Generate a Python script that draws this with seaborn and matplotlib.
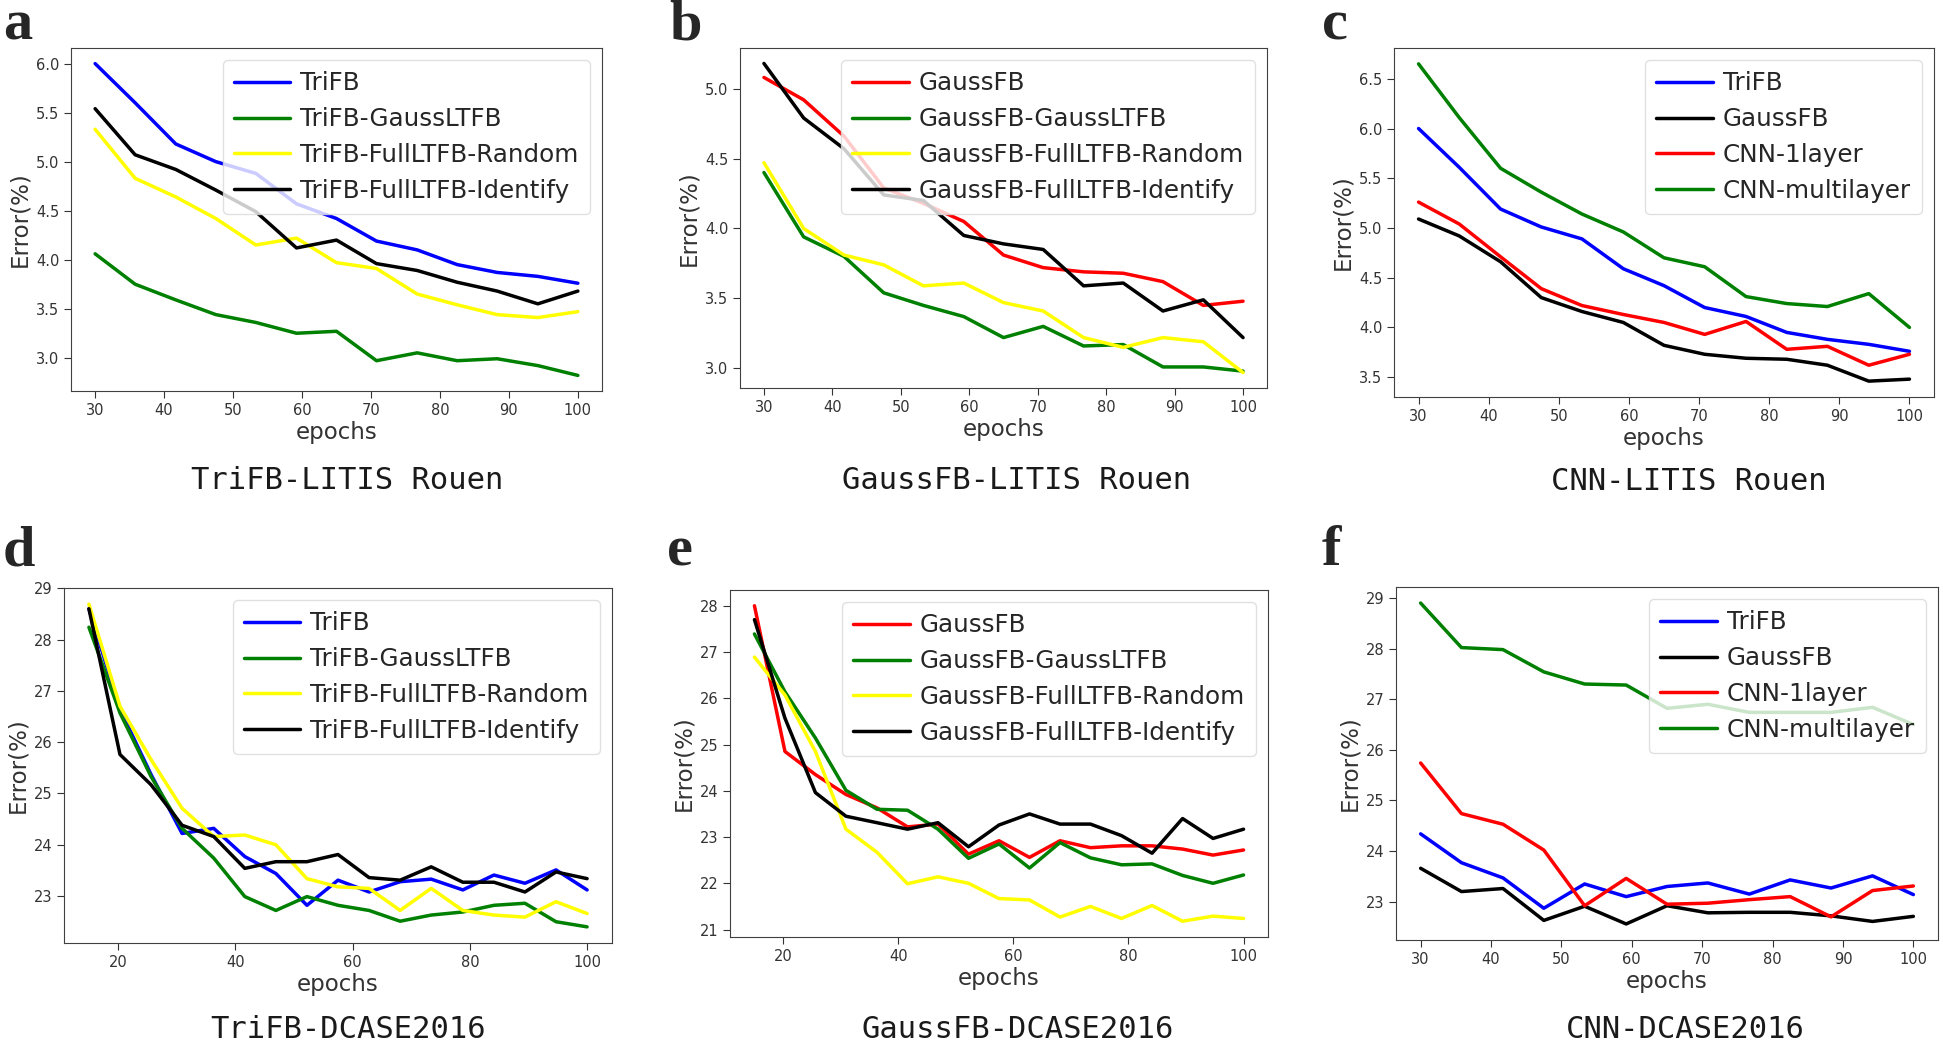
import matplotlib
matplotlib.use('Agg')
import matplotlib.pyplot as plt
import seaborn as sns
import pandas as pd

sns.set_style('ticks')
plt.rcParams['font.family'] = ['DejaVu Sans']

# x positions (epochs)
epochs_13 = [30, 35.8, 41.7, 47.5, 53.3, 59.2, 65, 70.8, 76.7, 82.5, 88.3, 94.2, 100]
epochs_17 = [15, 20.3, 25.6, 30.9, 36.3, 41.6, 46.9, 52.2, 57.5, 62.8, 68.1, 73.4, 78.8, 84.1, 89.4, 94.7, 100]

# a: TriFB - LITIS Rouen
a_labels = ['TriFB', 'TriFB-GaussLTFB', 'TriFB-FullLTFB-Random', 'TriFB-FullLTFB-Identify']
a_trifb = [6.00, 5.60, 5.18, 5.00, 4.88, 4.57, 4.42, 4.19, 4.10, 3.95, 3.87, 3.83, 3.76]
a_gauss = [4.06, 3.75, 3.59, 3.44, 3.36, 3.25, 3.27, 2.97, 3.05, 2.97, 2.99, 2.92, 2.82]
a_random = [5.33, 4.83, 4.64, 4.42, 4.15, 4.22, 3.97, 3.91, 3.65, 3.54, 3.44, 3.41, 3.47]
a_ident = [5.54, 5.07, 4.92, 4.71, 4.49, 4.12, 4.20, 3.96, 3.89, 3.77, 3.68, 3.55, 3.68]

# b: GaussFB - LITIS Rouen
b_labels = ['GaussFB', 'GaussFB-GaussLTFB', 'GaussFB-FullLTFB-Random', 'GaussFB-FullLTFB-Identify']
b_gaussfb = [5.08, 4.92, 4.66, 4.29, 4.18, 4.05, 3.81, 3.72, 3.69, 3.68, 3.62, 3.45, 3.48]
b_gauss = [4.40, 3.94, 3.80, 3.54, 3.45, 3.37, 3.22, 3.30, 3.16, 3.17, 3.01, 3.01, 2.98]
b_random = [4.47, 4.00, 3.81, 3.74, 3.59, 3.61, 3.47, 3.41, 3.22, 3.15, 3.22, 3.19, 2.97]
b_ident = [5.18, 4.79, 4.57, 4.24, 4.20, 3.95, 3.89, 3.85, 3.59, 3.61, 3.41, 3.49, 3.22]

# c: CNN - LITIS Rouen
c_labels = ['TriFB', 'GaussFB', 'CNN-1layer', 'CNN-multilayer']
c_trifb = [6.00, 5.61, 5.19, 5.01, 4.89, 4.59, 4.42, 4.20, 4.11, 3.95, 3.88, 3.83, 3.76]
c_gaussfb = [5.09, 4.92, 4.66, 4.30, 4.16, 4.05, 3.82, 3.73, 3.69, 3.68, 3.62, 3.46, 3.48]
c_cnn1 = [5.26, 5.04, 4.71, 4.39, 4.22, 4.13, 4.05, 3.93, 4.06, 3.78, 3.81, 3.62, 3.73]
c_cnnm = [6.65, 6.11, 5.60, 5.36, 5.14, 4.96, 4.70, 4.61, 4.31, 4.24, 4.21, 4.34, 4.00]

# d: TriFB - DCASE2016
d_trifb = [28.60, 26.64, 25.37, 24.22, 24.32, 23.77, 23.44, 22.82, 23.31, 23.08, 23.28, 23.33, 23.12, 23.41, 23.25, 23.51, 23.12]
d_gauss = [28.24, 26.57, 25.33, 24.32, 23.74, 22.99, 22.72, 22.99, 22.82, 22.72, 22.51, 22.63, 22.69, 22.82, 22.86, 22.50, 22.40]
d_random = [28.69, 26.70, 25.66, 24.71, 24.16, 24.19, 24.00, 23.34, 23.18, 23.15, 22.72, 23.15, 22.72, 22.63, 22.59, 22.89, 22.66]
d_ident = [28.60, 25.76, 25.17, 24.38, 24.16, 23.54, 23.67, 23.67, 23.81, 23.36, 23.31, 23.57, 23.27, 23.27, 23.08, 23.47, 23.34]

# e: GaussFB - DCASE2016
e_gaussfb = [28.00, 24.85, 24.35, 23.92, 23.63, 23.22, 23.28, 22.63, 22.92, 22.56, 22.92, 22.77, 22.81, 22.81, 22.74, 22.61, 22.72]
e_gauss = [27.39, 26.14, 25.14, 24.01, 23.60, 23.58, 23.17, 22.54, 22.85, 22.33, 22.88, 22.55, 22.40, 22.42, 22.17, 22.00, 22.18]
e_random = [26.89, 26.07, 24.85, 23.17, 22.67, 21.99, 22.14, 22.00, 21.67, 21.64, 21.27, 21.50, 21.24, 21.52, 21.18, 21.29, 21.24]
e_ident = [27.70, 25.57, 23.96, 23.45, 23.31, 23.17, 23.31, 22.79, 23.26, 23.50, 23.28, 23.28, 23.03, 22.65, 23.40, 22.97, 23.17]

# f: CNN - DCASE2016
f_trifb = [24.34, 23.77, 23.47, 22.87, 23.35, 23.10, 23.30, 23.37, 23.15, 23.43, 23.27, 23.51, 23.14]
f_gaussfb = [23.66, 23.20, 23.26, 22.63, 22.91, 22.56, 22.92, 22.78, 22.79, 22.79, 22.72, 22.61, 22.71]
f_cnn1 = [25.74, 24.74, 24.53, 24.02, 22.92, 23.46, 22.95, 22.97, 23.04, 23.10, 22.70, 23.22, 23.31]
f_cnnm = [28.90, 28.02, 27.98, 27.54, 27.30, 27.28, 26.82, 26.90, 26.74, 26.74, 26.74, 26.84, 26.50]

W, H = 1943, 1043
fig = plt.figure(figsize=(W / 100, H / 100), dpi=100)


def draw_panel(box, epochs, series, labels, colors, xticks, yticks, letter, letter_xy, title, title_xy):
    left, top, right, bottom = box
    ax = fig.add_axes([left / W, 1 - bottom / H, (right - left) / W, (bottom - top) / H])
    rows = []
    for lab, vals in zip(labels, series):
        for x, y in zip(epochs, vals):
            rows.append({'epochs': x, 'error': y, 'model': lab})
    df = pd.DataFrame(rows)
    sns.lineplot(data=df, x='epochs', y='error', hue='model', hue_order=labels,
                 palette=dict(zip(labels, colors)), linewidth=2.5, errorbar=None, ax=ax)
    sns.move_legend(ax, 'upper right', title=None, fontsize=17.7, frameon=True,
                    framealpha=0.8, edgecolor='0.85', fancybox=True,
                    labelspacing=0.48, handlelength=2.3, handletextpad=0.4, borderpad=0.45)
    ax.set_xticks(xticks)
    ax.set_yticks(yticks)
    ax.tick_params(labelsize=10.5, length=5, colors='0.2')
    ax.set_xlabel('epochs', fontsize=16.5, color='0.2', labelpad=2)
    ax.set_ylabel('Error(%)', fontsize=16.5, color='0.2', labelpad=3)
    for s in ax.spines.values():
        s.set_color('0.25')
    fig.text(letter_xy[0] / W, 1 - letter_xy[1] / H, letter, family='Liberation Serif',
             fontweight='bold', fontsize=42, va='baseline', ha='left')
    fig.text(title_xy[0] / W, 1 - title_xy[1] / H, title, family='DejaVu Sans Mono',
             fontsize=22, ha='center', va='center', color='0.1')
    return ax


top_x = [30, 40, 50, 60, 70, 80, 90, 100]
bot_x = [20, 40, 60, 80, 100]
c4 = ['#0000ff', '#008000', '#ffff00', '#000000']
c4b = ['#ff0000', '#008000', '#ffff00', '#000000']
c4c = ['#0000ff', '#000000', '#ff0000', '#008000']

draw_panel((71, 48, 602, 391), epochs_13, [a_trifb, a_gauss, a_random, a_ident], a_labels, c4,
           top_x, [3.0, 3.5, 4.0, 4.5, 5.0, 5.5, 6.0], 'a', (3, 40), 'TriFB-LITIS Rouen', (347, 480))
draw_panel((740, 48, 1267, 388), epochs_13, [b_gaussfb, b_gauss, b_random, b_ident], b_labels, c4b,
           top_x, [3.0, 3.5, 4.0, 4.5, 5.0], 'b', (669, 40), 'GaussFB-LITIS Rouen', (1017, 480))
draw_panel((1394, 48, 1934, 397), epochs_13, [c_trifb, c_gaussfb, c_cnn1, c_cnnm], c_labels, c4c,
           top_x, [3.5, 4.0, 4.5, 5.0, 5.5, 6.0, 6.5], 'c', (1322, 40), 'CNN-LITIS Rouen', (1689, 482))
draw_panel((64, 588, 612, 943), epochs_17, [d_trifb, d_gauss, d_random, d_ident], a_labels, c4,
           bot_x, [23, 24, 25, 26, 27, 28, 29], 'd', (3, 565), 'TriFB-DCASE2016', (348, 1029))
draw_panel((730, 590, 1268, 937), epochs_17, [e_gaussfb, e_gauss, e_random, e_ident], b_labels, c4b,
           bot_x, [21, 22, 23, 24, 25, 26, 27, 28], 'e', (667, 565), 'GaussFB-DCASE2016', (1018, 1029))
draw_panel((1396, 587, 1938, 940), epochs_13, [f_trifb, f_gaussfb, f_cnn1, f_cnnm], c_labels, c4c,
           top_x, [23, 24, 25, 26, 27, 28, 29], 'f', (1322, 565), 'CNN-DCASE2016', (1685, 1029))

fig.savefig('out.png', dpi=100)
